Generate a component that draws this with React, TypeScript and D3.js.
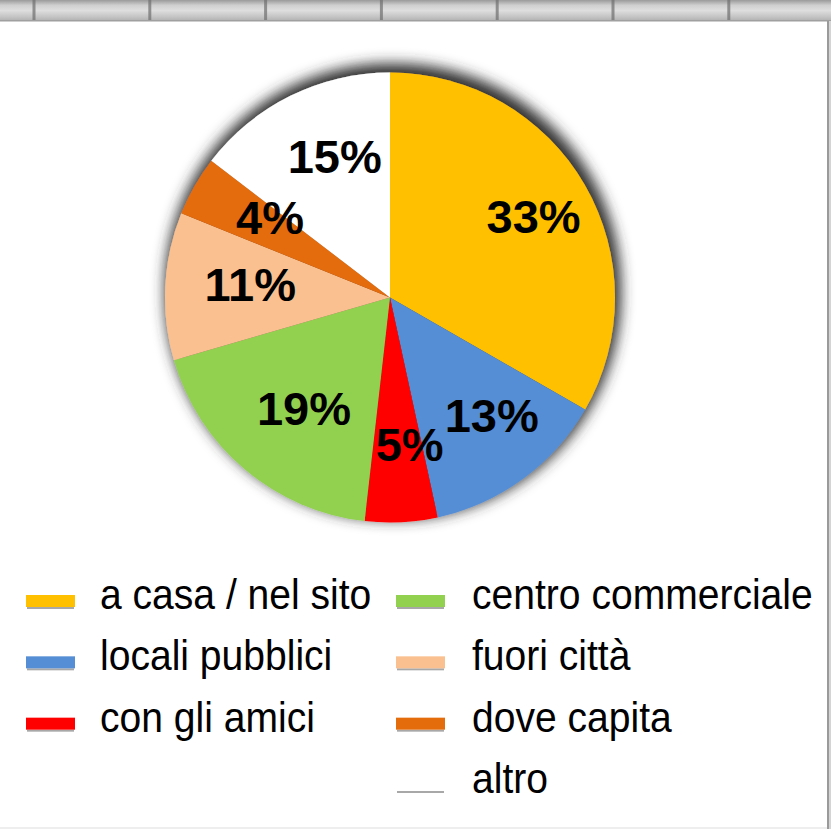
import React from "react";
import * as d3 from "d3";

const categories = [
  "a casa / nel sito",
  "locali pubblici",
  "con gli amici",
  "centro commerciale",
  "fuori città",
  "dove capita",
  "altro",
];
const values = [33.3, 13.3, 5.2, 18.7, 10.6, 4.3, 14.6];
const colors = ["#FFC000", "#558ED5", "#FF0000", "#92D050", "#FAC090", "#E46C0A", "#FFFFFF"];

const W = 831;
const H = 829;

export default function App() {
  const cx = 390;
  const cy = 297.5;
  const R = 225;
  const total = d3.sum(values);
  const pie = d3.pie<number>().sort(null).value((d) => d);
  const arcs = pie(values);
  const arc = d3.arc<d3.PieArcDatum<number>>().innerRadius(0).outerRadius(R);
  const labelArc = d3.arc<d3.PieArcDatum<number>>().innerRadius(152).outerRadius(152);
  const fmt = d3.format(".0%");
  const labelDx = 12;
  const labelDy = -5;

  const gridX = d3.range(34, W, 115.8);

  const legendRow = d3.scaleLinear().domain([0, 3]).range([609, 793]);

  return (
    <div style={{ position: "absolute", left: 0, top: 0 }}>
      <svg width={W} height={H} style={{ display: "block" }}>
        <defs>
          <linearGradient id="band" x1="0" y1="0" x2="0" y2="1">
            <stop offset="0" stopColor="#9a9a9a" />
            <stop offset="0.25" stopColor="#cfcfcf" />
            <stop offset="0.5" stopColor="#dedede" />
            <stop offset="0.8" stopColor="#c4c4c4" />
            <stop offset="1" stopColor="#b0b0b0" />
          </linearGradient>
          <filter id="pieShadow" x="-25%" y="-25%" width="150%" height="150%">
            <feMorphology in="SourceAlpha" operator="dilate" radius="3" result="dil" />
            <feGaussianBlur in="dil" stdDeviation="7" result="blur" />
            <feOffset in="blur" dx="3" dy="-6" result="off" />
            <feFlood floodColor="#303030" result="col" />
            <feComposite in="col" in2="off" operator="in" result="sh" />
            <feMerge>
              <feMergeNode in="sh" />
              <feMergeNode in="SourceGraphic" />
            </feMerge>
          </filter>
        </defs>
        <rect x={0} y={0} width={W} height={H} fill="#ffffff" />
        {/* spreadsheet-like top band */}
        <rect x={0} y={0} width={W} height={21} fill="url(#band)" />
        {gridX.map((x, i) => (
          <rect key={i} x={x - 1.5} y={0} width={3} height={21} fill="#6e6e6e" opacity={0.7} />
        ))}
        <rect x={0} y={20} width={W} height={1.5} fill="#a0a0a0" />
        {/* right border */}
        <rect x={827} y={21} width={2} height={H - 21} fill="#9a9a9a" />
        <rect x={829} y={21} width={2} height={H - 21} fill="#d4d4d4" />
        <rect x={0} y={827} width={827} height={2} fill="#eeeeee" />

        <g transform={`translate(${cx},${cy})`}>
          <g filter="url(#pieShadow)">
            {arcs.map((a, i) => (
              <path key={i} d={arc(a) || ""} fill={colors[i]} />
            ))}
          </g>
          {arcs.map((a, i) => {
            const [lx, ly] = labelArc.centroid(a);
            return (
              <text
                key={i}
                x={lx + labelDx}
                y={ly + labelDy}
                dy="0.35em"
                textAnchor="middle"
                fontFamily="'Liberation Sans', Arial, sans-serif"
                fontWeight="bold"
                fontSize={47}
                fill="#000"
              >
                {fmt(a.value / total)}
              </text>
            );
          })}
        </g>

        {categories.map((c, i) => {
          const col = i < 3 ? 0 : 1;
          const row = i < 3 ? i : i - 3;
          const sx = col === 0 ? 26 : 396;
          const tx = col === 0 ? 100 : 472;
          const by = legendRow(row);
          return (
            <g key={c}>
              <rect x={sx + 1} y={by - 2} width={47} height={2} fill="#a8a8a8" />
              <rect x={sx} y={by - 14} width={49} height={12} fill={colors[i]} />
              <text
                transform={`translate(${tx},${by}) scale(0.93,1)`}
                fontFamily="'Liberation Sans', Arial, sans-serif"
                fontSize={42}
                fill="#000"
              >
                {c}
              </text>
            </g>
          );
        })}
      </svg>
    </div>
  );
}
